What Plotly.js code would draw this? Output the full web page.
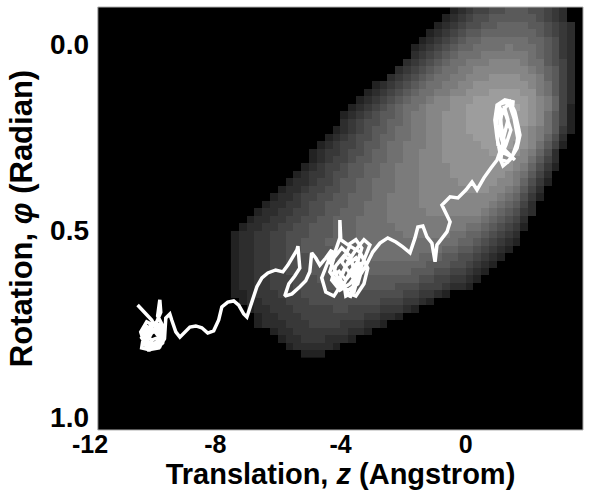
<!DOCTYPE html>
<html>
<head>
<meta charset="utf-8">
<script src="https://cdn.plot.ly/plotly-3.0.1.min.js"></script>
<style>html,body{margin:0;padding:0;background:#fff;}#chart{width:598px;height:497px;}</style>
</head>
<body>
<div id="chart"></div>
<script>
// ---- Axis ticks ----
var xTickVals = [-12, -8, -4, 0, 4];
var xTickText = ['-12', '-8', '-4', '0', '4'];
var yTickVals = [0, 0.5, 1.0];
var yTickText = ['0.0', '0.5', '1.0'];

// ---- Free-energy map (grey level 0-15 per cell), grid start / step in data units ----
var mapZ0 = -7.375, mapDZ = 0.25;    // translation z (Angstrom), cell centres
var mapPhi0 = -0.09, mapDPhi = 0.02; // rotation phi (radian), cell centres
var mapRows = [
"0000000000000000000000000000345667788877654",
"0000000000000000000000000003456778888887654",
"00000000000000000000000000345677889999887654",
"00000000000000000000000003456788999999987654",
"00000000000000000000000034567899aaaaaa998754",
"0000000000000000000000034567899aaaabaaa98754",
"00000000000000000000000456789aaabbbbbba98754",
"0000000000000000000000456789aabbbccccbaa8764",
"000000000000000000000456789aabbcccccccba9864",
"00000000000000000000456789aabbcccddddccb9864",
"0000000000000000003456789aabbccdddddddcba864",
"000000000000000003456789aabbccdddeeeeddba864",
"00000000000000003456789aabccdddeeeeeeedcb964",
"0000000000000003456789aabcccddeeeefffedcb963",
"0000000000000034567889abbccdddeeeeefeedca863",
"0000000000000045677899abbccdddeeeeeeeedca863",
"000000000000034567889aabbccdddeeeeeeedcba853",
"000000000000345677899aabbccddddeeeeeedcb974",
"00000000000345667889aabbbccdddddeeeeddca863",
"00000000003455677899aabbcccddddddeeddcb974",
"00000000003456678899aabbcccdddddddddcca864",
"0000000003456678899aabbbccccddddddddcb9753",
"0000000034556778899aabbbccccdddddddcba864",
"000000034456678899aaabbbcccccdddddccb9753",
"000000344566778899aaabbbccccccdddccba864",
"000003445667788999aabbbbccccccccccba9753",
"00003445567788899aaabbbbcccccccccba9864",
"00034455667788999aaabbbbbcccccccba98754",
"0034455667788999aaaabbbbbbbbbbbba98764",
"0344556677888999aaaaabbbbbbbbbaa987653",
"3445566777888999aaaaaabbbbbbaa9987654",
"3445566778889999aaaaaaaaaaaaa99876543",
"34455667788889999aaaaaaaaaa998876543",
"344556677788899999aaaaaa99988776543",
"3445566777888899999999999888776543",
"344556677788888999999998887766543",
"34455666777888888888888877665543",
"3445566677778888888887776665443",
"3345556667777777777777665543",
"03445556667777777776665543",
"003445556666677666655543",
"0003445556666666655443",
"00034445556666555443",
"000003445555555443",
"0000003445554443",
"00000003444443",
"000000000333"
];

// ---- Trajectory (translation z in Angstrom, rotation phi in radian) ----
var trajZ = [
-10.48,-10.25,-10.03,-9.90,-10.09,-10.32,-10.35,-10.09,-9.84,-9.77,
-9.97,-10.22,-10.28,-10.03,-9.71,-9.68,-9.84,-9.77,-9.74,-9.87,
-10.09,-10.35,-10.16,-9.87,-9.68,
-10.19,-10.38,-10.25,-9.93,-9.68,-9.61,-9.84,-10.12,-10.28,-10.06,
-9.77,-9.65,-9.77,-10.03,-10.19,-9.90,-9.71,
-10.00,-10.30,-10.14,-9.80,-9.62,
-9.58,-9.45,-9.39,-9.26,-9.13,
-8.97,-8.81,-8.62,-8.43,-8.24,-8.05,-7.89,-7.79,-7.60,-7.41,
-7.25,-7.09,-6.99,-6.90,-6.80,-6.67,-6.51,-6.32,-6.07,-5.84,
-5.68,-5.55,-5.39,-5.36,-5.33,-5.30,-5.46,-5.65,-5.78,-5.55,
-5.30,-5.11,-4.98,-4.92,-4.79,-4.66,-4.47,-4.28,-4.40,-4.60,
-4.47,-4.21,-4.02,-4.15,-4.34,-4.15,-4.02,-4.02,-3.99,-3.76,
-3.51,-3.32,-3.45,-3.70,-3.89,-3.83,-3.57,-3.45,-3.64,-3.89,
-4.15,-4.28,-4.02,-3.70,-3.38,-3.19,-3.06,-3.25,-3.51,-3.76,
-3.96,
-4.08,-3.83,-3.57,-3.70,-3.96,-4.21,-4.34,-4.08,-3.76,-3.45,
-3.32,-3.51,-3.83,-4.02,-3.83,-3.51,-3.25,-3.13,-3.38,-3.70,
-3.96,-3.64,-3.38,
-3.70,-3.51,-3.19,-2.97,-2.74,-2.49,-2.23,-2.01,-1.78,
-1.62,-1.53,-1.37,-1.24,-1.08,-0.98,-0.92,-0.76,-0.60,-0.50,
-0.66,-0.76,-0.50,-0.25,0.01,0.20,0.36,0.58,0.81,1.00,
1.09,1.00,0.93,1.00,1.25,1.51,1.48,1.64,1.73,1.64,
1.41,1.19,1.09,1.28,1.44,1.28,1.09,1.13,1.22,1.16,
1.48,1.67,1.54,1.38,1.16,1.06,1.25,1.57,
1.03,0.97,1.09,1.41,1.57,1.70,1.60,1.35,1.12,1.19,1.35,1.22
];
var trajPhi = [
0.700,0.719,0.740,0.761,0.780,0.799,0.815,0.820,0.810,0.788,
0.767,0.756,0.777,0.794,0.783,0.756,0.729,0.686,0.719,0.745,
0.761,0.788,0.810,0.799,0.767,
0.745,0.772,0.807,0.818,0.802,0.772,0.751,0.759,0.788,0.812,
0.812,0.788,0.761,0.775,0.799,0.804,0.777,
0.765,0.795,0.820,0.815,0.790,
0.735,0.724,0.740,0.772,0.786,
0.772,0.759,0.756,0.761,0.775,0.769,0.740,0.705,0.692,0.689,
0.700,0.724,0.732,0.708,0.678,0.651,0.627,0.614,0.606,0.611,
0.593,0.574,0.552,0.542,0.574,0.601,0.622,0.643,0.676,0.670,
0.651,0.635,0.611,0.560,0.574,0.593,0.574,0.552,0.584,0.627,
0.665,0.676,0.651,0.611,0.584,0.552,0.520,0.472,0.525,0.539,
0.525,0.547,0.584,0.611,0.643,0.676,0.665,0.627,0.584,0.568,
0.595,0.633,0.660,0.643,0.606,0.568,0.539,0.525,0.552,0.584,
0.622,
0.606,0.633,0.606,0.568,0.547,0.574,0.611,0.643,0.660,0.643,
0.606,0.574,0.595,0.627,0.665,0.676,0.643,0.601,0.558,0.542,
0.584,0.622,0.584,
0.681,0.638,0.595,0.558,0.534,0.520,0.531,0.544,0.560,
0.520,0.491,0.488,0.517,0.534,0.584,0.539,0.520,0.504,0.477,
0.450,0.432,0.410,0.413,0.391,0.370,0.391,0.359,0.332,0.311,
0.290,0.252,0.204,0.164,0.150,0.155,0.182,0.209,0.244,0.279,
0.311,0.327,0.306,0.271,0.231,0.190,0.172,0.217,0.257,0.290,
0.303,0.257,0.198,0.158,0.182,0.231,0.284,0.311,
0.271,0.217,0.161,0.153,0.182,0.231,0.284,0.316,0.311,0.257,0.204,0.166
];

// Extent of the sampled (black) map region
var mapZMin = -11.75, mapZMax = 3.745;
var xRange = [-12, 4];
var yRange = [1.035, -0.099];

var NCOL = 45;
var z = mapRows.map(function (r) {
  var s = (r + Array(NCOL + 1).join('0')).slice(0, NCOL);
  return s.split('').map(function (c) { return parseInt(c, 16); });
});

var FONT = 'Liberation Sans, Arial, Helvetica, sans-serif';

var traces = [
  {
    type: 'heatmap',
    z: z,
    x0: mapZ0, dx: mapDZ,
    y0: mapPhi0, dy: mapDPhi,
    zmin: 0, zmax: 15,
    zsmooth: false,
    colorscale: [[0, '#000000'], [1, '#a8a8a8']],
    showscale: false,
    hoverinfo: 'skip'
  },
  {
    type: 'scatter',
    mode: 'lines',
    x: trajZ,
    y: trajPhi,
    line: { color: '#ffffff', width: 3.5 },
    hoverinfo: 'skip'
  }
];

var layout = {
  width: 598,
  height: 497,
  margin: { l: 90, r: 7, t: 7, b: 67 },
  paper_bgcolor: '#ffffff',
  plot_bgcolor: '#ffffff',
  showlegend: false,
  xaxis: {
    range: xRange,
    tickvals: xTickVals,
    ticktext: xTickText,
    showgrid: false, zeroline: false, showline: false, ticks: '',
    ticklabelstandoff: -3,
    tickfont: { family: FONT, size: 25, color: '#000', weight: 'bold' },
    title: { text: 'Translation, <i>z</i> (Angstrom)', standoff: 0,
             font: { family: FONT, size: 29, color: '#000', weight: 'bold' } }
  },
  yaxis: {
    range: yRange,
    tickvals: yTickVals,
    ticktext: yTickText,
    showgrid: false, zeroline: false, showline: false, ticks: '',
    tickfont: { family: FONT, size: 28, color: '#000', weight: 'bold' },
    title: { text: 'Rotation, <i>φ</i> (Radian)', standoff: 8,
             font: { family: FONT, size: 31, color: '#000', weight: 'bold' } }
  },
  shapes: [
    { type: 'rect', layer: 'below', xref: 'x', yref: 'y domain',
      x0: mapZMin, x1: mapZMax, y0: 0, y1: 1,
      fillcolor: '#000000', line: { width: 0 } },
    { type: 'rect', layer: 'above', xref: 'x', yref: 'y domain',
      x0: mapZMin, x1: mapZMax, y0: 0, y1: 1,
      fillcolor: 'rgba(0,0,0,0)', line: { color: '#b0b0b0', width: 1 } }
  ]
};

Plotly.newPlot('chart', traces, layout, { staticPlot: true, displayModeBar: false });
</script>
</body>
</html>
